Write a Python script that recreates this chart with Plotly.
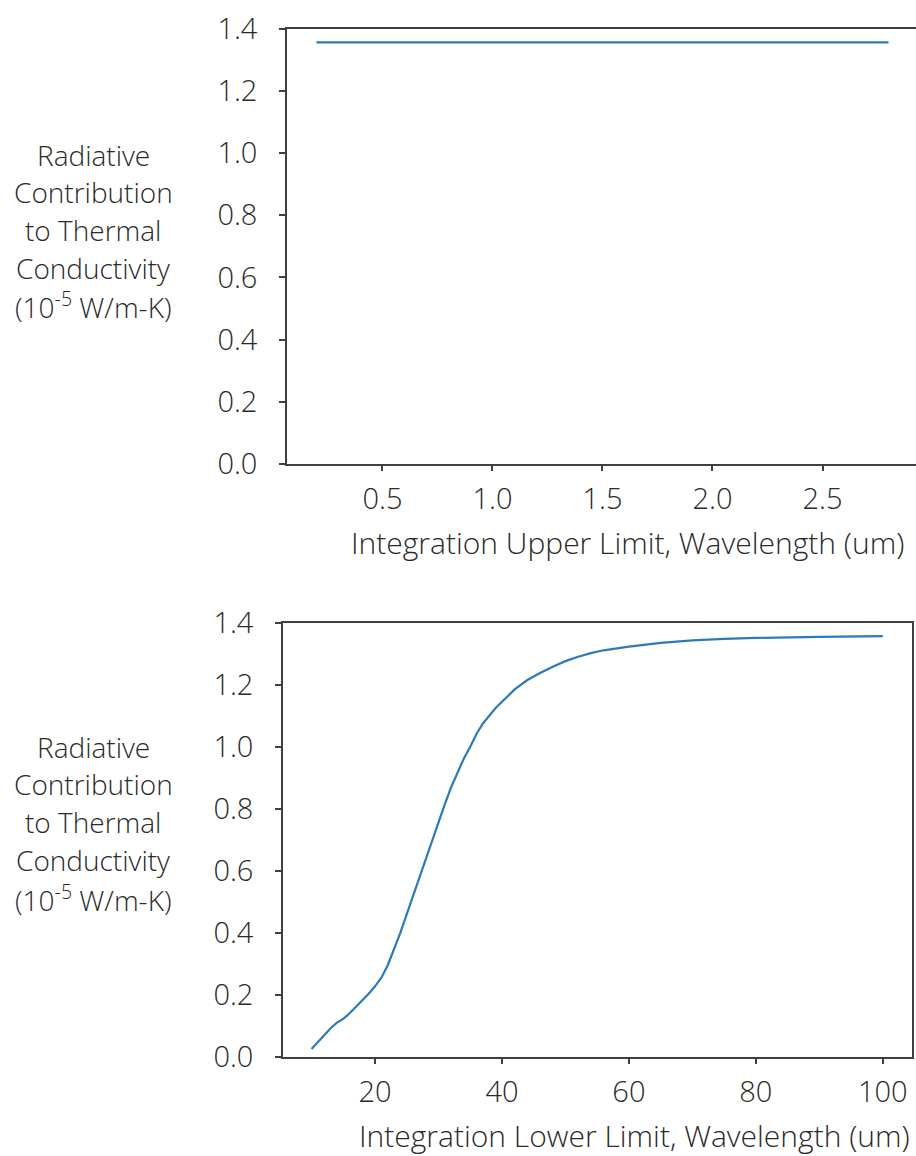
import plotly.graph_objects as go

# ---- data ----
upper_limit_um = [0.2, 0.5, 1.0, 1.5, 2.0, 2.5, 2.8]
upper_k = [1.357, 1.357, 1.357, 1.357, 1.357, 1.357, 1.357]

lower_limit_um = [10, 11, 12, 13, 14, 15, 16, 17, 18, 19, 20, 21, 22, 23, 24, 25, 26, 27,
                  28, 29, 30, 31, 32, 33, 34, 35, 36, 37, 38, 39, 40, 42, 44, 46, 48, 50,
                  52, 54, 56, 58, 60, 65, 70, 75, 80, 90, 100]
lower_k = [0.025, 0.048, 0.07, 0.092, 0.11, 0.122, 0.14, 0.16, 0.182, 0.203, 0.227, 0.255,
           0.295, 0.345, 0.40, 0.46, 0.52, 0.58, 0.64, 0.70, 0.76, 0.815, 0.87, 0.918,
           0.962, 1.0, 1.042, 1.075, 1.10, 1.125, 1.145, 1.185, 1.215, 1.238, 1.258, 1.276,
           1.29, 1.302, 1.311, 1.317, 1.323, 1.335, 1.343, 1.348, 1.351, 1.354, 1.357]

y_ticks = [0.0, 0.2, 0.4, 0.6, 0.8, 1.0, 1.2, 1.4]
top_x_ticks = [0.5, 1.0, 1.5, 2.0, 2.5]
bot_x_ticks = [20, 40, 60, 80, 100]

ytitle_lines = ["Radiative", "Contribution", "to Thermal", "Conductivity",
                "(10<sup>-5</sup> W/m-K)"]
top_xtitle = "Integration Upper Limit, Wavelength (um)"
bot_xtitle = "Integration Lower Limit, Wavelength (um)"

W, H = 916, 1156
def xp(px): return px / W
def yp(py): return 1 - py / H

FONT = "Open Sans"
TXT = "#2a2a2a"
AX = "#404040"
LINE = "#2b7bba"

fig = go.Figure()
fig.add_trace(go.Scatter(x=upper_limit_um, y=upper_k, mode="lines",
                         line=dict(color=LINE, width=2.2), xaxis="x", yaxis="y",
                         showlegend=False))
fig.add_trace(go.Scatter(x=lower_limit_um, y=lower_k, mode="lines",
                         line=dict(color=LINE, width=2.2),
                         xaxis="x2", yaxis="y2", showlegend=False))

tickfont = dict(family=FONT, size=29, color=TXT, weight=300)
common_ax = dict(showgrid=False, zeroline=False, ticks="outside", ticklen=6,
                 tickwidth=1.5, tickcolor=AX, showline=True, linecolor=AX,
                 linewidth=1.5, tickfont=tickfont, automargin=False)

fig.update_layout(
    width=W, height=H, margin=dict(l=0, r=0, t=0, b=0),
    paper_bgcolor="white", plot_bgcolor="white",
    xaxis=dict(domain=[xp(287), xp(916)], range=[0.066, 2.925], anchor="y",
               tickvals=top_x_ticks, ticktext=[f"{v:.1f}" for v in top_x_ticks],
               mirror=True, ticklabelstandoff=3, **common_ax),
    yaxis=dict(domain=[yp(463.7), yp(29)], range=[0, 1.4], anchor="x",
               tickvals=y_ticks, ticktext=[f"{v:.1f}" for v in y_ticks],
               mirror=False, ticklabelstandoff=16, **common_ax),
    xaxis2=dict(domain=[xp(283), xp(912)], range=[5.5, 104.6], anchor="y2",
                tickvals=bot_x_ticks, ticktext=[str(v) for v in bot_x_ticks],
                mirror=True, ticklabelstandoff=3, **common_ax),
    yaxis2=dict(domain=[yp(1056.7), yp(622.7)], range=[0, 1.4], anchor="x2",
                tickvals=y_ticks, ticktext=[f"{v:.1f}" for v in y_ticks],
                mirror=True, ticklabelstandoff=16, **common_ax),
)

ytfont = dict(family=FONT, size=28, color=TXT, weight=300)
xtfont = dict(family=FONT, size=30, color=TXT, weight=300)
ann = []
top_line_y = [155, 192, 230, 268, 306]
for i, t in enumerate(ytitle_lines):
    for off in (0, 592):
        ann.append(dict(text=t, x=xp(93), y=yp(top_line_y[i] + off), xref="paper",
                        yref="paper", xanchor="center", yanchor="middle",
                        showarrow=False, font=ytfont))
ann.append(dict(text=top_xtitle, x=xp(906), y=yp(543), xref="paper", yref="paper",
                xanchor="right", yanchor="middle", showarrow=False, font=xtfont))
ann.append(dict(text=bot_xtitle, x=xp(912), y=yp(1135), xref="paper", yref="paper",
                xanchor="right", yanchor="middle", showarrow=False, font=xtfont))
fig.update_layout(annotations=ann)

fig.write_html("out.html")
